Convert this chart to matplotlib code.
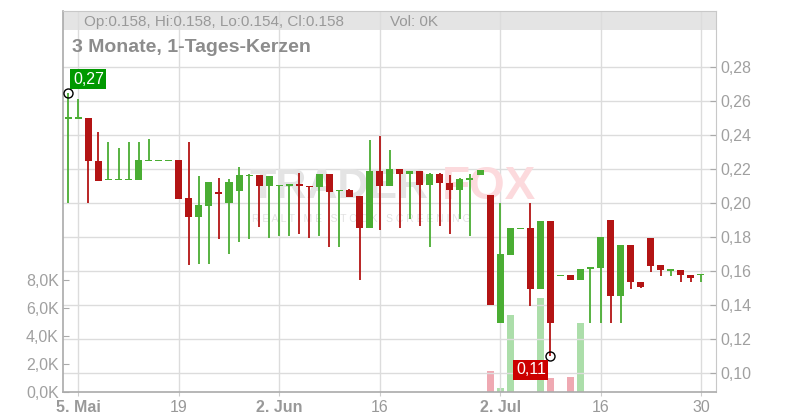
import numpy as np
import pandas as pd
import matplotlib
matplotlib.use('Agg')
import matplotlib.pyplot as plt
from matplotlib.patches import Rectangle
from matplotlib.ticker import FuncFormatter

plt.rcParams['font.family'] = ['Liberation Sans', 'DejaVu Sans']

W, H = 800, 420

# ---- data (64 trading days, 2 May – 30 Jul 2025) ----
dates = pd.bdate_range('2025-05-02', '2025-07-30')
opens = [0.250, 0.250, 0.250, 0.225, 0.2138, 0.2138, 0.2138, 0.2138, 0.225, 0.225,
         0.225, 0.225, 0.2027, 0.192, 0.1982, 0.2066, 0.2001, 0.2071, 0.2163, 0.2163,
         0.210, 0.2102, 0.210, 0.2109, 0.2102, 0.2094, 0.2168, 0.2073, 0.2075, 0.204,
         0.1855, 0.2186, 0.210, 0.2198, 0.217, 0.2186, 0.2106, 0.2168, 0.2118, 0.2079,
         0.214, 0.2165, 0.2048, 0.1296, 0.1694, 0.185, 0.185, 0.1495, 0.1896, 0.1573,
         0.1577, 0.1548, 0.1609, 0.1618, 0.1899, 0.1451, 0.1753, 0.1536, 0.1794, 0.1636,
         0.1605, 0.1607, 0.1577, 0.158]
highs = [0.265, 0.261, 0.250, 0.242, 0.236, 0.2325, 0.236, 0.236, 0.2378, 0.225,
         0.225, 0.2255, 0.236, 0.2157, 0.2122, 0.2145, 0.214, 0.2209, 0.2168, 0.2163,
         0.2157, 0.2102, 0.2109, 0.2176, 0.2102, 0.2168, 0.2168, 0.2077, 0.2081, 0.204,
         0.2373, 0.2396, 0.2314, 0.2198, 0.2186, 0.2186, 0.2174, 0.2174, 0.2165, 0.2147,
         0.2169, 0.2194, 0.2048, 0.2001, 0.185, 0.1854, 0.2001, 0.1896, 0.1896, 0.1573,
         0.1577, 0.1612, 0.1624, 0.180, 0.1899, 0.1753, 0.1753, 0.1536, 0.1794, 0.1636,
         0.1605, 0.1607, 0.1577, 0.158]
lows = [0.200, 0.250, 0.200, 0.213, 0.2138, 0.2138, 0.2138, 0.2138, 0.225, 0.225,
        0.225, 0.2023, 0.1636, 0.164, 0.164, 0.1791, 0.1698, 0.1768, 0.1791, 0.1861,
        0.1797, 0.1807, 0.1807, 0.182, 0.1797, 0.1807, 0.1739, 0.1739, 0.2036, 0.1546,
        0.1855, 0.1844, 0.210, 0.1855, 0.1908, 0.1867, 0.1739, 0.1867, 0.1816, 0.1904,
        0.1805, 0.2165, 0.140, 0.1296, 0.1694, 0.1846, 0.1396, 0.1495, 0.110, 0.1573,
        0.1548, 0.1548, 0.1297, 0.1297, 0.1297, 0.1297, 0.1496, 0.1498, 0.1595, 0.1568,
        0.1568, 0.1538, 0.1538, 0.1538]
closes = [0.250, 0.250, 0.2245, 0.213, 0.2138, 0.2138, 0.2138, 0.225, 0.225, 0.225,
          0.225, 0.2023, 0.1917, 0.1988, 0.2122, 0.2054, 0.2122, 0.2163, 0.2163, 0.210,
          0.2157, 0.2102, 0.2109, 0.210, 0.2094, 0.2168, 0.2065, 0.2073, 0.2036, 0.1855,
          0.2186, 0.210, 0.2198, 0.217, 0.2186, 0.2106, 0.2168, 0.2118, 0.2079, 0.2142,
          0.214, 0.2194, 0.140, 0.1698, 0.185, 0.185, 0.1495, 0.1896, 0.1296, 0.1573,
          0.1548, 0.1612, 0.1624, 0.180, 0.1451, 0.1753, 0.1533, 0.1503, 0.1632, 0.1603,
          0.1605, 0.1574, 0.1556, 0.158]
volumes = [0] * 42 + [1500, 300, 5500, 0, 0, 6700, 1000, 0, 1070, 4950] + [0] * 12

tick_dates = ['2025-05-05', '2025-05-19', '2025-06-02', '2025-06-16',
              '2025-07-02', '2025-07-16', '2025-07-30']
tick_labels = ['5. Mai', '19', '2. Jun', '16', '2. Jul', '16', '30']
bold_labels = ['5. Mai', '2. Jun', '2. Jul']
price_ticks = [0.10, 0.12, 0.14, 0.16, 0.18, 0.20, 0.22, 0.24, 0.26, 0.28]
vol_ticks = [0, 2000, 4000, 6000, 8000]

GREEN = '#4aad33'
RED = '#b31414'
VGREEN = '#acdeaa'
VRED = '#efa9b2'
GRID = '#dcdcdc'
TXT = '#a0a0a0'


def px(x):
    return x / W


def py(y):
    return 1 - y / H


fig = plt.figure(figsize=(8, 4.2), dpi=100, facecolor='white')
ax = fig.add_axes([px(63), py(392), 653 / W, 381 / H])
vol = ax.twinx()
ax.set_zorder(vol.get_zorder() + 1)
ax.patch.set_visible(False)

x = np.arange(len(dates))
o, hi, lo, c = map(np.array, (opens, highs, lows, closes))
up = c >= o
cols = np.where(up, GREEN, RED)

# volume
vol.bar(x, volumes, 0.7, color=np.where(up, VGREEN, VRED), lw=0, zorder=2)
vol.set_ylim(0, 381 / 28 * 2000)
vol.set_yticks(vol_ticks)
vol.yaxis.set_major_formatter(FuncFormatter(
    lambda v, p: f'{v / 1000:.1f}K'.replace('.', ',')))
vol.yaxis.tick_left()
vol.tick_params(axis='y', direction='in', length=4, color='#aaaaaa',
                labelcolor=TXT, labelsize=11.5, pad=3)
for s in vol.spines.values():
    s.set_visible(False)

# candles
ax.vlines(x, lo, hi, colors=cols, lw=1.3, zorder=3)
min_h = 0.0009
body = np.abs(c - o)
flat = body < min_h
bottoms = np.where(flat, (o + c) / 2 - min_h / 2, np.minimum(o, c))
heights = np.where(flat, min_h, body)
ax.bar(x, heights, 0.7, bottom=bottoms, color=cols, lw=0, zorder=4)

ax.set_xlim(-0.53, 64.5)
ax.set_ylim(0.10 - 19 / 1700, 0.10 + 362 / 1700)
ax.set_yticks(price_ticks)
ax.yaxis.set_major_formatter(FuncFormatter(
    lambda v, p: f'{v:.2f}'.replace('.', ',')))
ax.yaxis.tick_right()
ax.tick_params(axis='y', direction='in', length=4, color='#aaaaaa',
               labelcolor=TXT, labelsize=11.5, pad=3)

tick_pos = [dates.get_loc(pd.Timestamp(d)) for d in tick_dates]
ax.set_xticks(tick_pos)
ax.set_xticklabels(tick_labels)
ax.tick_params(axis='x', direction='out', length=3, color='#cccccc',
               labelcolor='#999999', labelsize=11.5, pad=3)
for lbl in ax.get_xticklabels():
    if lbl.get_text() in bold_labels:
        lbl.set_fontweight('bold')

ax.set_axisbelow(True)
ax.grid(True, color=GRID, lw=1)
ax.spines['left'].set_color('#aaaaaa')
ax.spines['bottom'].set_color('#aaaaaa')
ax.spines['left'].set_linewidth(1.2)
ax.spines['bottom'].set_linewidth(1.2)
ax.spines['top'].set_color('#c8c8c8')
ax.spines['right'].set_color('#c8c8c8')

# header band
ax.add_patch(Rectangle((0, 1 - 19 / 381), 1, 19 / 381, transform=ax.transAxes,
                       fc='#e4e4e4', ec='none', zorder=0.2))

# watermark
ax.text(px(250), py(187), 'TRADER', transform=fig.transFigure, fontsize=31,
        fontweight='bold', color='#e4e4e4', va='center', ha='left', zorder=1)
ax.text(px(442), py(187), 'FOX', transform=fig.transFigure, fontsize=33,
        fontweight='bold', color='#fcdadd', va='center', ha='left', zorder=1)
ax.text(px(252), py(219), 'R E A L T I M E   S T O C K   S C R E E N I N G',
        transform=fig.transFigure, fontsize=7.5, color='#e2e2e2',
        va='center', ha='left', zorder=1)

# high / low markers
i_hi = int(np.argmax(hi))
i_lo = int(np.argmin(lo))
ax.plot([i_hi, i_lo], [hi[i_hi], lo[i_lo]], 'o', mfc='none', mec='black',
        ms=6.5, mew=1, zorder=6)
ax.annotate(f'{hi[i_hi]:.2f}'.replace('.', ','), xy=(i_hi, hi[i_hi]),
            xytext=(20, 13.5), textcoords='offset pixels', ha='center',
            va='center', fontsize=11.5, color='white', zorder=7,
            bbox=dict(boxstyle='square,pad=0.16', fc='#009900', ec='none'))
ax.annotate(f'{lo[i_lo]:.2f}'.replace('.', ','), xy=(i_lo, lo[i_lo]),
            xytext=(-19.5, -14), textcoords='offset pixels', ha='center',
            va='center', fontsize=11.5, color='white', zorder=7,
            bbox=dict(boxstyle='square,pad=0.16', fc='#cc0000', ec='none'))

# header texts
fig.add_artist(Rectangle((px(68.5), py(26.5)), 10 / W, 10 / H,
                         transform=fig.transFigure, fc=GREEN, ec='black', lw=1))
fig.text(px(84), py(22),
         f'Op:{o[-1]:.3f}, Hi:{hi[-1]:.3f}, Lo:{lo[-1]:.3f}, Cl:{c[-1]:.3f}',
         fontsize=11, color='#999999', va='center', ha='left')
fig.add_artist(Rectangle((px(375), py(26.5)), 10 / W, 10 / H,
                         transform=fig.transFigure, fc=VGREEN, ec='black', lw=1))
fig.text(px(390), py(22), f'Vol: {volumes[-1] // 1000}K', fontsize=11,
         color='#999999', va='center', ha='left')
fig.text(px(72), py(47.7), '3 Monate, 1-Tages-Kerzen', fontsize=14,
         fontweight='bold', color='#8c8c8c', va='center', ha='left')

fig.savefig('out.png', dpi=100, facecolor='white')
